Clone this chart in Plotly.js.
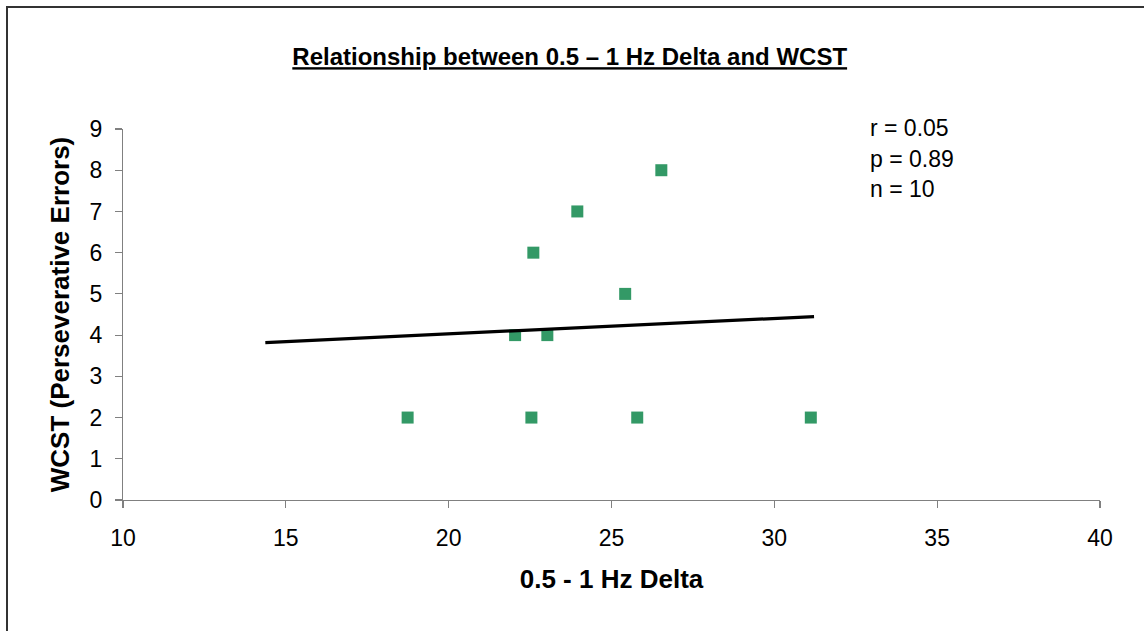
<!DOCTYPE html>
<html>
<head>
<meta charset="utf-8">
<script src="https://cdn.plot.ly/plotly-3.0.1.min.js"></script>
<style>
  html, body { margin: 0; padding: 0; background: #ffffff; }
  #frame {
    position: absolute; left: 6px; top: 6px; width: 1150px; height: 640px;
    border-left: 2px solid #333333; border-top: 2px solid #333333;
  }
  #chart { position: absolute; left: 0; top: 0; width: 1144px; height: 631px; }
</style>
</head>
<body>
<div id="frame"></div>
<div id="chart"></div>
<script>
// Delta power (0.5 - 1 Hz) against WCST perseverative errors
const deltaPower = [18.74, 22.54, 25.79, 31.12, 22.04, 23.03, 22.60, 25.42, 23.95, 26.53];
const persevErrors = [2, 2, 2, 2, 4, 4, 6, 5, 7, 8];

// Linear trend line end points
const trendX = [14.37, 31.22];
const trendY = [3.82, 4.45];

const xTicks = [10, 15, 20, 25, 30, 35, 40];
const yTicks = [0, 1, 2, 3, 4, 5, 6, 7, 8, 9];

const statsLines = ['r = 0.05', 'p = 0.89', 'n = 10'];

const FONT = 'Arial, "Liberation Sans", sans-serif';

const traces = [
  {
    x: deltaPower, y: persevErrors, type: 'scatter', mode: 'markers',
    marker: { symbol: 'square', size: 12, color: '#339966' },
    hoverinfo: 'x+y', showlegend: false
  },
  {
    x: trendX, y: trendY, type: 'scatter', mode: 'lines',
    line: { color: '#000000', width: 3.2 },
    hoverinfo: 'skip', showlegend: false
  }
];

const layout = {
  width: 1144, height: 631,
  margin: { l: 123, r: 44, t: 129, b: 131 },
  paper_bgcolor: 'rgba(0,0,0,0)', plot_bgcolor: 'rgba(0,0,0,0)',
  font: { family: FONT, color: '#000000', size: 23 },
  title: {
    text: '<b><u>Relationship between 0.5 – 1 Hz Delta and WCST</u></b>',
    font: { family: FONT, size: 24, color: '#000000' },
    x: 0.498, xanchor: 'center', y: 0.91, yanchor: 'middle'
  },
  xaxis: {
    range: [10, 40], tickvals: xTicks, ticktext: xTicks.map(String),
    showgrid: false, zeroline: false,
    showline: true, linecolor: '#808080', linewidth: 1.2,
    ticks: 'outside', ticklen: 7, tickcolor: '#808080', tickwidth: 1.2,
    tickfont: { family: FONT, size: 23, color: '#000000' },
    ticklabelstandoff: 10,
    title: { text: '<b>0.5 - 1 Hz Delta</b>', font: { family: FONT, size: 26, color: '#000000' }, standoff: 20 }
  },
  yaxis: {
    range: [0, 9], tickvals: yTicks, ticktext: yTicks.map(String),
    showgrid: false, zeroline: false,
    showline: true, linecolor: '#808080', linewidth: 1.2,
    ticks: 'outside', ticklen: 7, tickcolor: '#808080', tickwidth: 1.2,
    tickfont: { family: FONT, size: 23, color: '#000000' },
    ticklabelstandoff: 8,
    title: { text: '<b>WCST (Perseverative Errors)</b>', font: { family: FONT, size: 26, color: '#000000' }, standoff: 12 }
  },
  annotations: statsLines.map((t) => ({
    text: t, xref: 'paper', yref: 'paper',
    xanchor: 'left', yanchor: 'middle',
    showarrow: false, align: 'left',
    font: { family: FONT, size: 23, color: '#000000' }
  }))
};

// anchor the stats block at fixed pixel positions inside the plot area
(function placeStats() {
  const plotW = layout.width - layout.margin.l - layout.margin.r;
  const plotH = layout.height - layout.margin.t - layout.margin.b;
  layout.annotations.forEach((a, i) => {
    a.x = (868 - layout.margin.l) / plotW;
    a.y = (layout.height - layout.margin.b - (128 + i * 30.5)) / plotH;
  });
})();

Plotly.newPlot('chart', traces, layout, { displayModeBar: false, staticPlot: true });
</script>
</body>
</html>
